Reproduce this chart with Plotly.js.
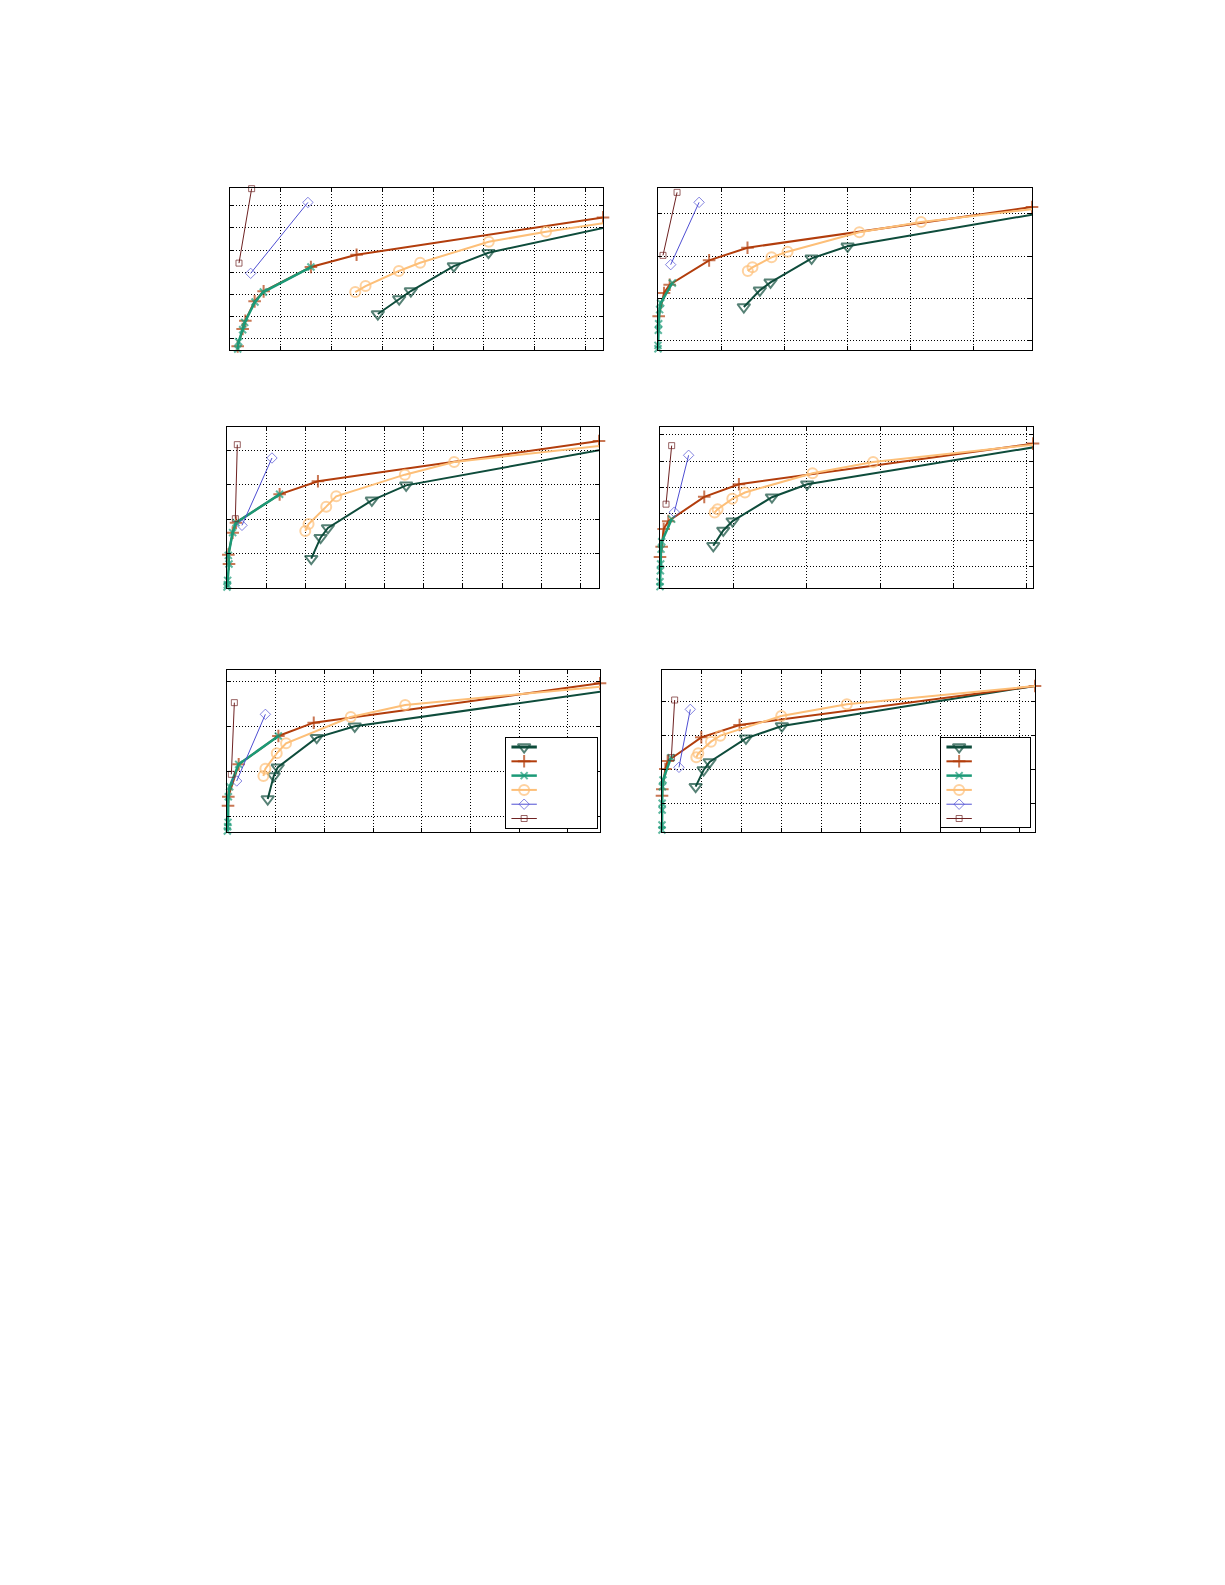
<!DOCTYPE html>
<html>
<head>
<meta charset="utf-8">
<script src="https://cdn.plot.ly/plotly-3.0.1.min.js"></script>
<style>body{margin:0;background:#fff}#myDiv{width:1225px;height:1585px}</style>
</head>
<body>
<div id="myDiv"></div>
<script>
// values, in grid units, one inner list per panel
// triangles (dark green)
var triX = [
  [2.911, 3.331, 3.561, 4.407, 5.089, 7.672],
  [1.360, 1.614, 1.783, 2.434, 3.005, 6.058],
  [2.142, 2.379, 2.566, 3.683, 4.555, 9.737],
  [0.726, 0.862, 0.989, 1.525, 2.005, 5.172],
  [0.836, 0.959, 1.041, 1.842, 2.623, 7.863],
  [0.846, 1.047, 1.198, 2.111, 3.015, 9.420]
];
var triY = [
  [1.619, 2.294, 2.654, 3.778, 4.378, 5.652],
  [1.016, 1.409, 1.598, 2.165, 2.449, 3.231],
  [0.854, 1.466, 1.748, 2.553, 2.990, 4.068],
  [1.604, 2.184, 2.538, 3.447, 3.939, 5.378],
  [0.732, 1.242, 1.434, 2.092, 2.343, 3.143],
  [1.337, 1.829, 2.065, 2.763, 3.127, 4.317]
];
// plus signs (red)
var plusX = [
  [0.151, 0.249, 0.302, 0.485, 0.662, 1.593, 2.492, 7.344],
  [0.011, 0.095, 0.185, 0.810, 1.418, 5.926],
  [0.051, 0.034, 0.144, 0.229, 1.338, 2.312, 9.458],
  [0.000, 0.023, 0.050, 0.113, 0.603, 1.075, 5.082],
  [0.021, 0.027, 0.240, 1.055, 1.781, 7.658],
  [0.000, 0.008, 0.084, 0.142, 0.988, 1.951, 9.380]
];
var plusY = [
  [0.165, 0.945, 1.319, 2.189, 2.639, 3.733, 4.288, 5.967],
  [0.795, 1.346, 1.543, 2.118, 2.417, 3.378],
  [0.699, 0.971, 1.612, 1.903, 2.728, 3.107, 4.282],
  [1.174, 1.566, 2.235, 2.538, 3.460, 3.939, 5.480],
  [0.584, 0.783, 1.500, 2.129, 2.424, 3.296],
  [1.072, 1.259, 1.858, 2.094, 2.793, 3.156, 4.307]
];
// crosses (green)
var crossX = [
  [0.151, 0.170, 0.249, 0.289, 0.492, 0.656, 1.593],
  [0.000, 0.000, 0.005, 0.011, 0.026, 0.042, 0.228],
  [0.000, 0.008, 0.017, 0.051, 0.034, 0.144, 0.229, 1.338],
  [0.000, 0.000, 0.005, 0.009, 0.014, 0.023, 0.159],
  [0.007, 0.014, 0.021, 0.027, 0.055, 0.240, 1.055],
  [0.000, 0.000, 0.004, 0.004, 0.008, 0.025, 0.226]
];
var crossY = [
  [0.045, 0.375, 0.915, 1.244, 2.159, 2.609, 3.733],
  [0.031, 0.110, 0.465, 0.622, 0.953, 1.110, 1.583],
  [0.029, 0.097, 0.223, 0.699, 0.951, 1.612, 1.903, 2.728],
  [0.051, 0.240, 0.657, 0.909, 1.477, 1.755, 2.614],
  [0.022, 0.118, 0.214, 0.783, 1.005, 1.500, 2.129],
  [0.059, 0.206, 0.649, 0.846, 1.337, 1.534, 2.193]
];
// circles (light orange)
var circX = [
  [2.466, 2.669, 3.325, 3.744, 5.095, 6.223, 7.541],
  [1.423, 1.497, 1.799, 2.053, 3.190, 4.169, 5.952],
  [1.990, 2.074, 2.523, 2.777, 4.522, 5.775, 9.568],
  [0.744, 0.785, 0.985, 1.157, 2.078, 2.904, 5.150],
  [0.747, 0.788, 1.021, 1.212, 2.541, 3.658, 7.795],
  [0.863, 0.913, 1.231, 1.466, 2.998, 4.648, 9.506]
];
var circY = [
  [2.609, 2.879, 3.553, 3.928, 4.873, 5.322, 5.772],
  [1.866, 1.953, 2.189, 2.323, 2.780, 3.024, 3.331],
  [1.660, 1.864, 2.369, 2.670, 3.301, 3.670, 4.150],
  [2.866, 2.992, 3.384, 3.624, 4.356, 4.785, 5.462],
  [1.242, 1.404, 1.744, 1.966, 2.550, 2.816, 3.237],
  [2.203, 2.321, 2.665, 2.842, 3.422, 3.766, 4.322]
];
// diamonds (blue)
var diaX = [[0.407, 1.534], [0.201, 0.651], [0.381, 1.143], [0.195, 0.390], [0.199, 0.788], [0.427, 0.712]];
var diaY = [[3.45, 6.64], [2.016, 3.488], [1.825, 3.786], [2.879, 5.038], [1.131, 2.609], [1.908, 3.618]];
// squares (brown)
var sqX = [[0.177, 0.426], [0.079, 0.302], [0.212, 0.262], [0.082, 0.159], [0.089, 0.151], [0.235, 0.318]];
var sqY = [[3.91, 7.26], [2.236, 3.724], [2.019, 4.175], [3.182, 5.404], [1.279, 2.868], [2.193, 3.894]];

// axis extents per panel (grid units) and where the first horizontal grid line sits
var xMax = [7.344, 5.926, 9.458, 5.082, 7.658, 9.380];
var yMax = [7.29, 3.827, 4.689, 6.111, 3.592, 4.779];
var yTick0 = [0.5, 0.22, 0, 0.82, 0.34, 0.855];

// panel boxes in page pixels: left, right, top, bottom
var boxes = [
  [230, 603, 188, 350], [658, 1032, 188, 350],
  [227, 599, 427, 588], [660, 1033, 427, 588],
  [227, 600, 670, 832], [662, 1035, 670, 832]
];
// legend boxes (bottom two panels), same order
var legBoxes = [[506, 597, 738, 828], [941, 1030, 738, 827]];
var legendRows = [0, 1, 2, 3, 4, 5];

var W = 1225, H = 1585;

// one entry per series: colour, line width, marker symbol, marker size, marker line width
var styles = [
  {c: '#0e4c3b', w: 2,   sym: 'triangle-down-open', s: 11, lw: 2},
  {c: '#b23d0c', w: 2,   sym: 'cross-thin-open',    s: 9,  lw: 2},
  {c: '#1b9a77', w: 2.5, sym: 'x-thin-open',        s: 7,  lw: 2},
  {c: '#fdbf78', w: 2,   sym: 'circle-open',        s: 10, lw: 2},
  {c: '#4f4fd3', w: 1,   sym: 'diamond-open',       s: 8,  lw: 1},
  {c: '#6e2222', w: 1,   sym: 'square-open',        s: 6,  lw: 1}
];
var seriesX = [triX, plusX, crossX, circX, diaX, sqX];
var seriesY = [triY, plusY, crossY, circY, diaY, sqY];
// triangle and circle lines run past the right frame: their last point carries no marker
var hideLast = [true, false, false, true, false, false];

function sizes(n, s, hide) {
  var a = [];
  for (var i = 0; i < n; i++) a.push(s);
  if (hide) a[n - 1] = 0;
  return a;
}
function axName(k) { return k === 1 ? '' : String(k); }

var data = [];
var layout = {
  width: W, height: H,
  margin: {l: 0, r: 0, t: 0, b: 0},
  paper_bgcolor: '#fff', plot_bgcolor: '#fff',
  showlegend: false
};

var axCommon = {
  showline: true, linecolor: '#000', linewidth: 1, mirror: 'ticks',
  ticks: 'inside', ticklen: 4, tickcolor: '#000', showticklabels: false,
  showgrid: true, gridcolor: '#000', griddash: '1px,2px', gridwidth: 1,
  zeroline: false, fixedrange: true, tickmode: 'linear', dtick: 1
};

for (var p = 0; p < 6; p++) {
  var k = p + 1;
  var xa = 'x' + axName(k), ya = 'y' + axName(k);
  for (var s = 0; s < 6; s++) {
    var st = styles[s];
    data.push({
      x: seriesX[s][p], y: seriesY[s][p], xaxis: xa, yaxis: ya,
      mode: 'lines+markers', cliponaxis: false, hoverinfo: 'skip',
      line: {color: st.c, width: st.w},
      marker: {symbol: st.sym, size: sizes(seriesX[s][p].length, st.s, hideLast[s]),
               color: st.c, line: {width: st.lw, color: st.c}}
    });
  }
  var b = boxes[p];
  layout['xaxis' + axName(k)] = Object.assign({}, axCommon, {
    domain: [b[0] / W, b[1] / W], range: [0, xMax[p]], tick0: 0, anchor: ya
  });
  layout['yaxis' + axName(k)] = Object.assign({}, axCommon, {
    domain: [1 - b[3] / H, 1 - b[2] / H], range: [0, yMax[p]], tick0: yTick0[p], anchor: xa
  });
}

// legends for the bottom two panels, drawn as small boxed subplots (entries have no text)
for (var g = 0; g < 2; g++) {
  var k2 = 7 + g;
  var lx = 'x' + k2, ly = 'y' + k2;
  var lb = legBoxes[g];
  var rowH = 14.3;
  var nRows = (lb[3] - lb[2]) / rowH;
  for (var r = 0; r < legendRows.length; r++) {
    var sr = styles[r];
    var yy = legendRows[r] + 0.63;
    data.push({
      x: [0.6, 2.0, 3.4], y: [yy, yy, yy], xaxis: lx, yaxis: ly,
      mode: 'lines+markers', cliponaxis: false, hoverinfo: 'skip',
      line: {color: sr.c, width: r === 0 ? 3 : sr.w},
      marker: {symbol: sr.sym, size: [0, sr.s, 0], color: sr.c, line: {width: sr.lw, color: sr.c}}
    });
  }
  var legAx = {
    showline: true, linecolor: '#000', linewidth: 1, mirror: true,
    ticks: '', showticklabels: false, showgrid: false, zeroline: false, fixedrange: true
  };
  layout['xaxis' + k2] = Object.assign({}, legAx, {
    domain: [lb[0] / W, lb[1] / W], range: [0, (lb[1] - lb[0]) / 9.07], anchor: ly
  });
  layout['yaxis' + k2] = Object.assign({}, legAx, {
    domain: [1 - lb[3] / H, 1 - lb[2] / H], range: [nRows, 0], anchor: lx
  });
}

Plotly.newPlot('myDiv', data, layout, {staticPlot: true});
</script>
</body>
</html>
